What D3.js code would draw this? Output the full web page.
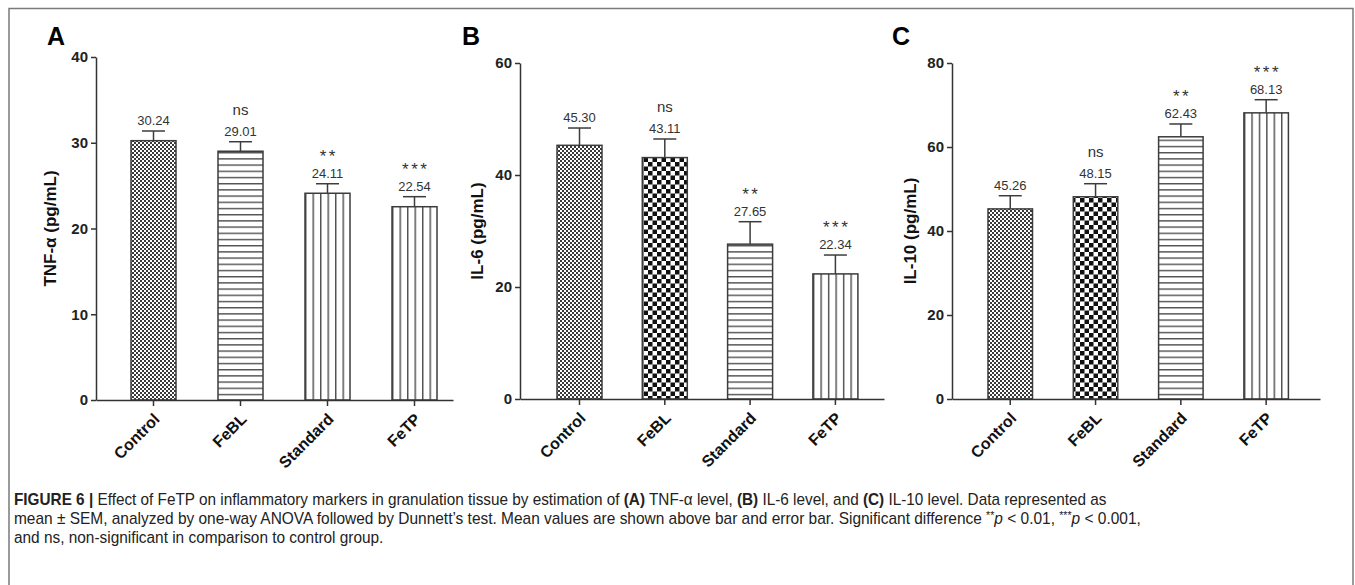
<!DOCTYPE html>
<html>
<head>
<meta charset="utf-8">
<script src="https://cdn.jsdelivr.net/npm/d3@7"></script>
<style>
  html, body { margin: 0; padding: 0; background: #fff; }
  svg { display: block; }
</style>
</head>
<body>
<svg id="chart" width="1355" height="585"></svg>
<script>
// ---------------- DATA ----------------
const categories = ["Control", "FeBL", "Standard", "FeTP"];
const significance = ["", "ns", "**", "***"];

const tnfMean = [30.24, 29.01, 24.11, 22.54];
const tnfSem  = [1.13, 1.11, 1.11, 1.17];
const tnfTicks = [0, 10, 20, 30, 40];

const il6Mean = [45.30, 43.11, 27.65, 22.34];
const il6Sem  = [3.09, 3.32, 4.01, 3.37];
const il6Ticks = [0, 20, 40, 60];

const il10Mean = [45.26, 48.15, 62.43, 68.13];
const il10Sem  = [3.14, 3.11, 3.05, 3.13];
const il10Ticks = [0, 20, 40, 60, 80];

const panelLetters = ["A", "B", "C"];
const yTitles = ["TNF-\u03b1 (pg/mL)", "IL-6 (pg/mL)", "IL-10 (pg/mL)"];

// ---------------- LAYOUT ----------------
const svg = d3.select("#chart");
const FONT = "'Liberation Sans', Arial, Helvetica, sans-serif";
const AXIS_COL = "#333";

// figure frame
svg.append("rect").attr("x", 9).attr("y", 8.5).attr("width", 1344).attr("height", 590)
  .attr("fill", "none").attr("stroke", "#7a7a7a").attr("stroke-width", 1.5);

// patterns
const defs = svg.append("defs");
const fine = defs.append("pattern").attr("id", "pFine").attr("patternUnits", "userSpaceOnUse")
  .attr("width", 4).attr("height", 4);
fine.append("rect").attr("width", 4).attr("height", 4).attr("fill", "#fff");
fine.append("rect").attr("width", 2).attr("height", 2).attr("fill", "#3a3a3a");
fine.append("rect").attr("x", 2).attr("y", 2).attr("width", 2).attr("height", 2).attr("fill", "#3a3a3a");

const coarse = defs.append("pattern").attr("id", "pCoarse").attr("patternUnits", "userSpaceOnUse")
  .attr("width", 9).attr("height", 9);
coarse.append("rect").attr("width", 9).attr("height", 9).attr("fill", "#fff");
coarse.append("rect").attr("width", 4.5).attr("height", 4.5).attr("fill", "#111");
coarse.append("rect").attr("x", 4.5).attr("y", 4.5).attr("width", 4.5).attr("height", 4.5).attr("fill", "#111");

const hl = defs.append("pattern").attr("id", "pH").attr("patternUnits", "userSpaceOnUse")
  .attr("width", 10).attr("height", 6.2).attr("y", 400 % 6.2);
hl.append("rect").attr("width", 10).attr("height", 6.2).attr("fill", "#fff");
hl.append("line").attr("x1", 0).attr("x2", 10).attr("y1", 0.7).attr("y2", 0.7)
  .attr("stroke", "#505050").attr("stroke-width", 1.4);

const vl = defs.append("pattern").attr("id", "pV").attr("patternUnits", "objectBoundingBox")
  .attr("width", 1 / 6).attr("height", 1);
vl.append("rect").attr("width", 20).attr("height", 600).attr("fill", "#fff");
vl.append("line").attr("x1", 0.7).attr("x2", 0.7).attr("y1", 0).attr("y2", 600)
  .attr("stroke", "#505050").attr("stroke-width", 1.5);

const panels = [
  { mean: tnfMean, sem: tnfSem, ticks: tnfTicks, max: 40, top: 57, base: 400,
    axisX: 96, axisEnd: 453, firstBar: 131, step: 87, bw: 45,
    fills: ["pFine", "pH", "pV", "pV"], letterX: 47, titleX: 50 },
  { mean: il6Mean, sem: il6Sem, ticks: il6Ticks, max: 60, top: 63, base: 399,
    axisX: 520, axisEnd: 884, firstBar: 557, step: 85.3, bw: 45,
    fills: ["pFine", "pCoarse", "pH", "pV"], letterX: 462, titleX: 477 },
  { mean: il10Mean, sem: il10Sem, ticks: il10Ticks, max: 80, top: 63, base: 399,
    axisX: 952, axisEnd: 1320, firstBar: 988, step: 85.3, bw: 44.5,
    fills: ["pFine", "pCoarse", "pH", "pV"], letterX: 892, titleX: 910 }
];

panels.forEach((p, pi) => {
  const g = svg.append("g");
  const n = categories.length;
  const pI = 1 - p.bw / p.step;
  const len = p.axisEnd - p.axisX;
  const pO = (len / p.step - (n - pI)) / 2;
  const outerTotal = len - p.step * (n - pI);
  const align = (p.firstBar - p.axisX) / outerTotal;

  const x = d3.scaleBand().domain(categories).range([p.axisX, p.axisEnd])
    .paddingInner(pI).paddingOuter(pO).align(align);
  const y = d3.scaleLinear().domain([0, p.max]).range([p.base, p.top]);

  const rows = categories.map((c, i) => ({ c, m: p.mean[i], s: p.sem[i], sig: significance[i], fill: p.fills[i] }));

  // bars
  g.selectAll("rect.bar").data(rows).enter().append("rect")
    .attr("class", "bar")
    .attr("x", d => x(d.c)).attr("width", x.bandwidth())
    .attr("y", d => y(d.m)).attr("height", d => y(0) - y(d.m))
    .attr("fill", d => `url(#${d.fill})`)
    .attr("stroke", "#3c3c3c").attr("stroke-width", 1.5);

  // error bars + labels
  const cap = 11.5;
  rows.forEach(d => {
    const cx = x(d.c) + x.bandwidth() / 2;
    const ye = y(d.m + d.s);
    g.append("line").attr("x1", cx).attr("x2", cx).attr("y1", y(d.m)).attr("y2", ye)
      .attr("stroke", "#3c3c3c").attr("stroke-width", 1.5);
    g.append("line").attr("x1", cx - cap).attr("x2", cx + cap).attr("y1", ye).attr("y2", ye)
      .attr("stroke", "#3c3c3c").attr("stroke-width", 1.5);
    g.append("text").attr("x", cx).attr("y", ye - 6).attr("text-anchor", "middle")
      .attr("font-family", FONT).attr("font-size", 13).attr("fill", "#333")
      .text(d3.format(".2f")(d.m));
    if (d.sig === "ns") {
      g.append("text").attr("x", cx).attr("y", ye - 27).attr("text-anchor", "middle")
        .attr("font-family", FONT).attr("font-size", 15).attr("fill", "#333").text(d.sig);
    } else if (d.sig) {
      g.append("text").attr("x", cx + 1.25).attr("y", ye - 22).attr("text-anchor", "middle")
        .attr("font-family", FONT).attr("font-size", 17).attr("letter-spacing", 2.5)
        .attr("fill", "#333").text(d.sig);
    }
  });

  // y axis
  const ya = g.append("g").attr("transform", `translate(${p.axisX},0)`)
    .call(d3.axisLeft(y).tickValues(p.ticks).tickSize(5).tickSizeOuter(0).tickPadding(3).tickFormat(d3.format("d")));
  ya.select(".domain").attr("stroke", AXIS_COL).attr("stroke-width", 1.5);
  ya.selectAll(".tick line").attr("stroke", AXIS_COL).attr("stroke-width", 1.5);
  ya.selectAll(".tick text").attr("font-family", FONT).attr("font-size", 15)
    .attr("font-weight", "bold").attr("fill", "#222");

  // x axis
  const xa = g.append("g").attr("transform", `translate(0,${p.base})`)
    .call(d3.axisBottom(x).tickSize(6).tickSizeOuter(0));
  xa.select(".domain").attr("stroke", AXIS_COL).attr("stroke-width", 1.5);
  xa.selectAll(".tick line").attr("stroke", AXIS_COL).attr("stroke-width", 1.5);
  xa.selectAll(".tick text")
    .attr("font-family", FONT).attr("font-size", 16).attr("font-weight", "bold").attr("fill", "#111")
    .attr("text-anchor", "end")
    .attr("transform", "translate(-1,12) rotate(-45)")
    .attr("x", 0).attr("y", 0).attr("dy", "0.72em");

  // y title
  g.append("text")
    .attr("transform", `translate(${p.titleX},${(p.top + p.base) / 2}) rotate(-90)`)
    .attr("text-anchor", "middle").attr("dy", "0.35em")
    .attr("font-family", FONT).attr("font-size", 17).attr("font-weight", "bold").attr("fill", "#111")
    .text(yTitles[pi]);

  // panel letter
  g.append("text").attr("x", p.letterX).attr("y", 45)
    .attr("font-family", FONT).attr("font-size", 25).attr("font-weight", "bold").attr("fill", "#000")
    .text(panelLetters[pi]);
});

// ---------------- CAPTION ----------------
const CAP_FONT = "'Liberation Sans Narrow', 'Arial Narrow', 'Liberation Sans', Arial, sans-serif";
const capLines = [
  { y: 505, len: 1093, parts: [
    ["FIGURE 6 | ", "bold"], ["Effect of FeTP on inflammatory markers in granulation tissue by estimation of ", ""],
    ["(A)", "bold"], [" TNF-\u03b1 level, ", ""], ["(B)", "bold"], [" IL-6 level, and ", ""],
    ["(C)", "bold"], [" IL-10 level. Data represented as", ""] ] },
  { y: 524, len: 1128, parts: [
    ["mean \u00b1 SEM, analyzed by one-way ANOVA followed by Dunnett\u2019s test. Mean values are shown above bar and error bar. Significant difference ", ""],
    ["**", "sup"], ["p", "italic"], [" < 0.01, ", ""], ["***", "sup"], ["p", "italic"], [" < 0.001,", ""] ] },
  { y: 543, len: null, parts: [["and ns, non-significant in comparison to control group.", ""]] }
];
const capTexts = capLines.map(l => {
  const t = svg.append("text").attr("x", 0).attr("y", 0)
    .attr("font-family", CAP_FONT).attr("font-size", 16).attr("fill", "#222");
  l.parts.forEach(([s, st]) => {
    const ts = t.append("tspan").text(s);
    if (st === "bold") ts.attr("font-weight", "bold");
    if (st === "italic") ts.attr("font-style", "italic").attr("dy", 5);
    if (st === "sup") ts.attr("font-size", 11).attr("dy", -5);
  });
  return t;
});
// one common horizontal condensation for all lines, from the two full-width lines
const scales = capLines.map((l, i) => l.len ? l.len / capTexts[i].node().getComputedTextLength() : null)
  .filter(v => v && isFinite(v));
const sxCommon = scales.length ? d3.mean(scales) : 1;
capTexts.forEach((t, i) => {
  const l = capLines[i];
  const sx = l.len ? l.len / t.node().getComputedTextLength() : sxCommon;
  t.attr("transform", `translate(14,${l.y}) scale(${sx},1)`);
});
</script>
</body>
</html>
